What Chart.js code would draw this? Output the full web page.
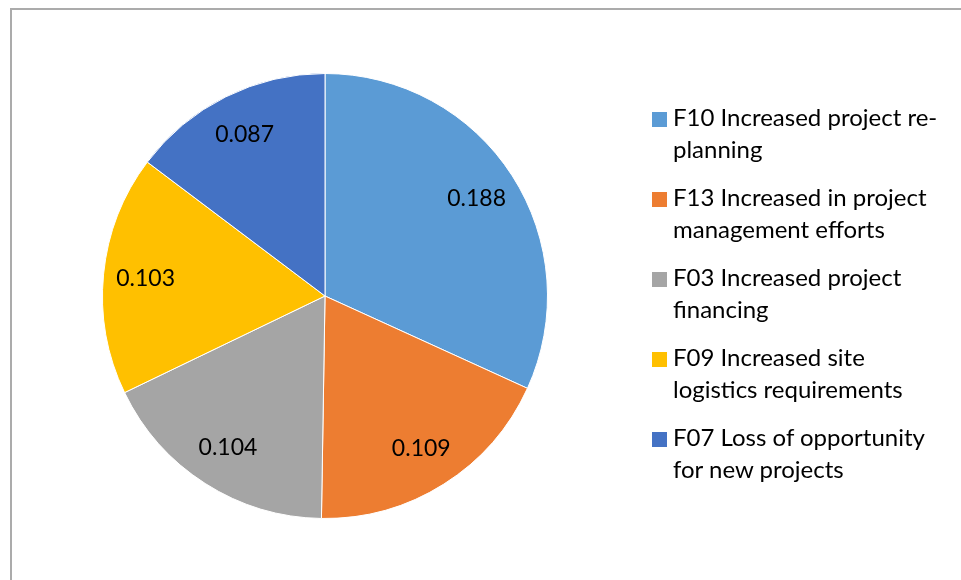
<!DOCTYPE html>
<html>
<head>
<meta charset="utf-8">
<script src="https://cdn.jsdelivr.net/npm/chart.js@4.4.1/dist/chart.umd.min.js"></script>
<style>
  html, body { margin: 0; padding: 0; background: #fff; }
  #wrap { position: relative; width: 961px; height: 580px; overflow: hidden; }
  #frame {
    position: absolute; left: 10px; top: 8px; right: -10px; bottom: -10px;
    border-top: 2px solid #ababab; border-left: 2px solid #ababab;
  }
  #pie { position: absolute; left: 0; top: 0; }
  #legend { position: absolute; left: 652px; top: 101px; font-family: Lato, sans-serif; font-size: 24px; color: #000; }
  .item { position: relative; height: 80px; }
  .swatch { position: absolute; left: 0; top: 11px; width: 15px; height: 15px; }
  .txt { position: absolute; left: 21px; top: 0; line-height: 32px; white-space: nowrap; }
</style>
</head>
<body>
<div id="wrap">
  <div id="frame"></div>
  <canvas id="pie" width="961" height="580"></canvas>
  <div id="legend"></div>
</div>
<script>
// Factor labels (as wrapped in the legend)
const factorLabels = [
  ['F10 Increased project re-', 'planning'],
  ['F13 Increased in project', 'management efforts'],
  ['F03 Increased project', 'financing'],
  ['F09 Increased site', 'logistics requirements'],
  ['F07 Loss of opportunity', 'for new projects']
];

// Weights
const factorWeights = [0.188, 0.109, 0.104, 0.103, 0.087];

// Office palette
const sliceColors = ['#5B9BD5', '#ED7D31', '#A5A5A5', '#FFC000', '#4472C4'];

// Draw value labels inside each slice
const sliceLabels = {
  id: 'sliceLabels',
  afterDatasetsDraw(chart) {
    const ctx = chart.ctx;
    const meta = chart.getDatasetMeta(0);
    ctx.save();
    ctx.font = '23px Lato, sans-serif';
    ctx.fillStyle = '#000';
    ctx.textAlign = 'center';
    ctx.textBaseline = 'middle';
    meta.data.forEach((arc, i) => {
      const p = arc.getProps(['x', 'y', 'startAngle', 'endAngle', 'outerRadius'], true);
      const mid = (p.startAngle + p.endAngle) / 2;
      const r = p.outerRadius * 0.81;
      ctx.fillText(factorWeights[i].toFixed(3), p.x + Math.cos(mid) * r, p.y + Math.sin(mid) * r);
    });
    ctx.restore();
  }
};

const chart = new Chart(document.getElementById('pie'), {
  type: 'pie',
  data: {
    labels: factorLabels.map(l => l.join(' ')),
    datasets: [{
      data: factorWeights,
      backgroundColor: sliceColors,
      borderColor: '#ffffff',
      borderWidth: 1,
      hoverOffset: 0
    }]
  },
  options: {
    responsive: false,
    animation: false,
    layout: { padding: { left: 102, top: 73, right: 413, bottom: 61 } },
    plugins: {
      legend: { display: false },
      tooltip: { enabled: false }
    }
  },
  plugins: [sliceLabels]
});

// HTML legend built from the chart's own legend items
const legendEl = document.getElementById('legend');
chart.options.plugins.legend.labels.generateLabels(chart).forEach((item, i) => {
  const row = document.createElement('div');
  row.className = 'item';
  const sw = document.createElement('div');
  sw.className = 'swatch';
  sw.style.background = item.fillStyle;
  const tx = document.createElement('div');
  tx.className = 'txt';
  tx.innerHTML = factorLabels[i].join('<br>');
  row.appendChild(sw);
  row.appendChild(tx);
  legendEl.appendChild(row);
});
</script>
</body>
</html>
